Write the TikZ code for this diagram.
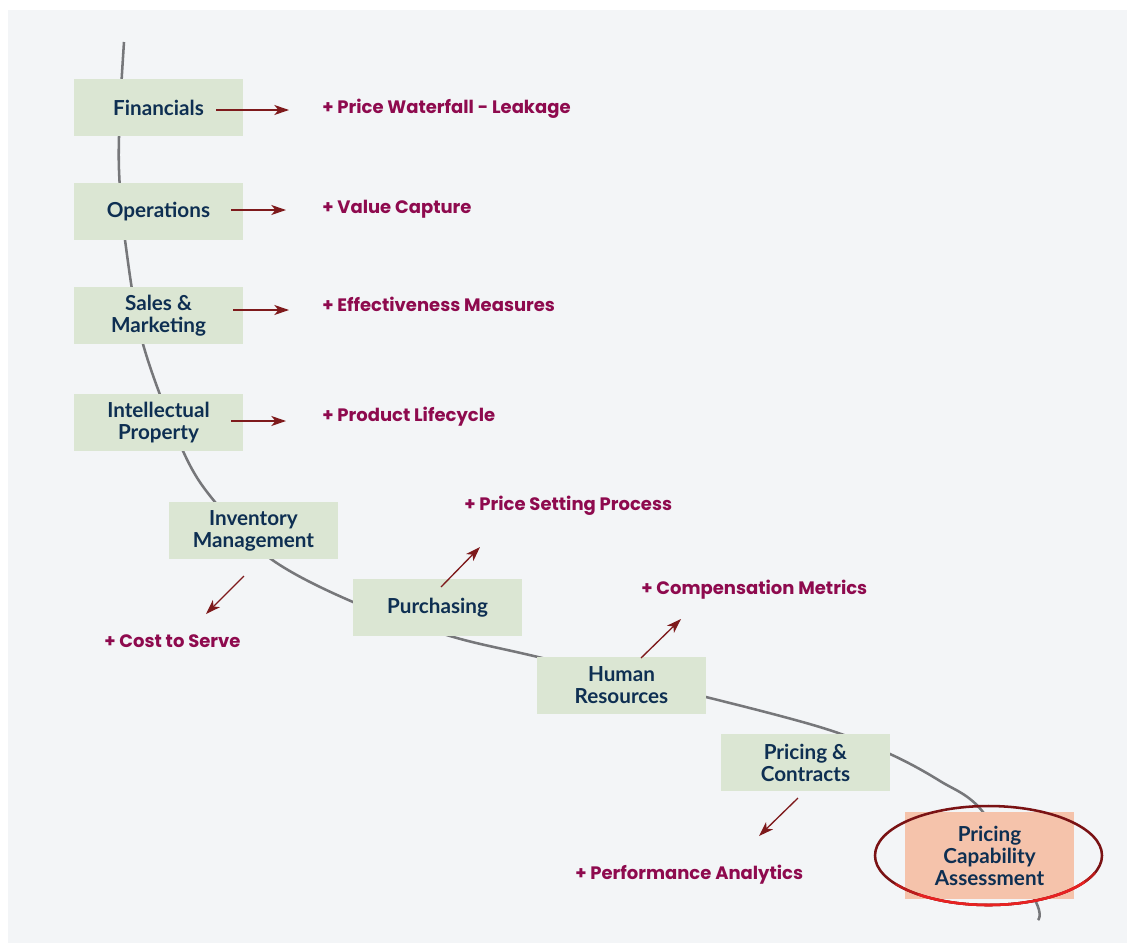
\documentclass[tikz,border=0pt]{standalone}
\usepackage{fontspec}
\newfontfamily\boxfont{Lato}
\newfontfamily\notefont{Poppins}
\usetikzlibrary{arrows.meta,shapes.geometric}
\definecolor{bg}{HTML}{F3F5F7}
\definecolor{boxgreen}{HTML}{DBE6D3}
\definecolor{boxorange}{HTML}{F5C3AB}
\definecolor{navy}{HTML}{0E2F52}
\definecolor{notecol}{HTML}{8E0A4E}
\definecolor{arrowred}{HTML}{7E1A1C}
\definecolor{curvegray}{HTML}{76777A}
\definecolor{ringdark}{HTML}{7A1214}
\definecolor{ringred}{HTML}{E82222}
\begin{document}
\begin{tikzpicture}[x=0.75pt,y=-0.75pt,
  stage/.style={fill=boxgreen, minimum width=126.75pt, minimum height=42.75pt, inner sep=0pt, align=center, text=navy, font=\boxfont\bfseries\fontsize{15.5}{16.5}\selectfont},
  note/.style={anchor=west, inner sep=0pt, text=notecol, font=\notefont\bfseries\fontsize{13.5}{16}\selectfont},
  link/.style={draw=arrowred, line width=1pt, -{Stealth[length=11pt,width=7.5pt,inset=3pt]}},
  spine/.style={draw=curvegray, line width=1.9pt}]
\useasboundingbox (0,0) rectangle (1127,943);
\fill[white] (0,0) rectangle (1127,943);
\fill[bg] (8,10) rectangle (1127,943);
% spine curve
\draw[spine] plot[smooth, tension=0.55] coordinates {(124,42) (120,110) (119,170) (125,240) (143,344) (183,451) (215,502) (271,559) (353,602) (450,636) (538,657) (706,697) (823,728) (890,754) (940,781) (983,812) (1035,900) (1038,920)};
% stages
\node[stage] (fin) at (158.5,107.5) {Financials};
\node[stage] (ops) at (158.5,211.5) {Operations};
\node[stage] (sal) at (158.5,315.5) {Sales \&\\Marketing};
\node[stage] (ip)  at (158.5,422.5) {Intellectual\\Property};
\node[stage] (inv) at (253.5,530.5) {Inventory\\Management};
\node[stage] (pur) at (437.5,607.5) {Purchasing};
\node[stage] (hr)  at (621.5,685.5) {Human\\Resources};
\node[stage] (pc)  at (805.5,762.5) {Pricing \&\\Contracts};
\node[stage, fill=boxorange, minimum height=65.25pt] (pca) at (989.5,855.5) {Pricing\\Capability\\Assessment};
% notes
\node[note] (nfin) at (322,109) {+ Price Waterfall - Leakage};
\node[note] (nops) at (322,209) {+ Value Capture};
\node[note] (nsal) at (322,304) {+ Effectiveness Measures};
\node[note] (nip)  at (322,417) {+ Product Lifecycle};
\node[note] (npur) at (464,506) {+ Price Setting Process};
\node[note] (ninv) at (104,641) {+ Cost to Serve};
\node[note] (nhr)  at (641,590) {+ Compensation Metrics};
\node[note] (npc)  at (575,875) {+ Performance Analytics};
% arrow ends
\coordinate (a1s) at (216,110); \coordinate (a1e) at (289,110);
\coordinate (a2s) at (231,210); \coordinate (a2e) at (286,210);
\coordinate (a3s) at (233,310); \coordinate (a3e) at (289,310);
\coordinate (a4s) at (231,421); \coordinate (a4e) at (286,421);
\coordinate (a5s) at (244,576); \coordinate (a5e) at (206,614);
\coordinate (a6s) at (441,587); \coordinate (a6e) at (480,547);
\coordinate (a7s) at (641,658); \coordinate (a7e) at (681,619);
\coordinate (a8s) at (798,798); \coordinate (a8e) at (759,836);
\draw[link] (a1s) -- (a1e);
\draw[link] (a2s) -- (a2e);
\draw[link] (a3s) -- (a3e);
\draw[link] (a4s) -- (a4e);
\draw[link] (a5s) -- (a5e);
\draw[link] (a6s) -- (a6e);
\draw[link] (a7s) -- (a7e);
\draw[link] (a8s) -- (a8e);
% highlight ring
\coordinate (ring) at (988.5,855.5);
\draw[ringdark, line width=1.9pt] (ring) ellipse [x radius=113.5, y radius=49.5];
\draw[ringred!60!ringdark, line width=1.9pt] (ring) ++(20:113.5 and 49.5) arc[start angle=20, end angle=145, x radius=113.5, y radius=49.5];
\draw[ringred, line width=1.9pt] (ring) ++(32:113.5 and 49.5) arc[start angle=32, end angle=128, x radius=113.5, y radius=49.5];
\end{tikzpicture}
\end{document}
